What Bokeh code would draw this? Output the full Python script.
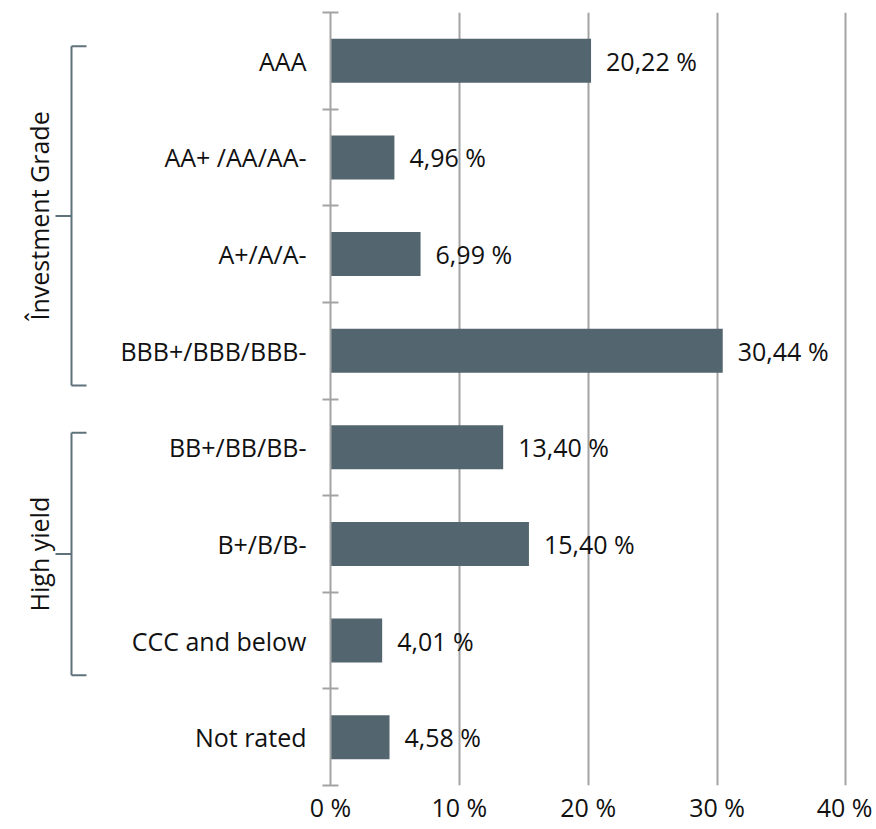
from bokeh.plotting import figure
from bokeh.layouts import row
from bokeh.models import Range1d, FixedTicker, ColumnDataSource, CustomJSTickFormatter
from bokeh.core.properties import value
from bokeh.embed import file_html
from bokeh.resources import INLINE
import math

categories = ["AAA", "AA+ /AA/AA-", "A+/A/A-", "BBB+/BBB/BBB-",
              "BB+/BB/BB-", "B+/B/B-", "CCC and below", "Not rated"]
shares = [20.22, 4.96, 6.99, 30.44, 13.40, 15.40, 4.01, 4.58]
x_ticks = [0, 10, 20, 30, 40]
x_tick_labels = ["0 %", "10 %", "20 %", "30 %", "40 %"]
group_names = ["Învestment Grade", "High yield"]
group_first = [0, 4]
group_last = [3, 6]

FONT = "Open Sans"
FS = "25px"
BAR = "#53656e"
GRID = "#a3a3a3"
BRACKET = "#5f727b"
TXT = "#111111"

n = len(categories)
H = 827
W = 872
TOP = 12
BOTTOM = 42
LEFT_W = 100

y_range = Range1d(n, 0)

centers = [i + 0.5 for i in range(n)]
bounds = [float(i) for i in range(n + 1)]

p = figure(width=W - LEFT_W, height=H, x_range=Range1d(0, 40.2), y_range=y_range,
           output_backend="svg", toolbar_location=None,
           min_border_top=TOP, min_border_bottom=BOTTOM, min_border_left=330 - LEFT_W,
           min_border_right=W - 848)
p.outline_line_color = None

src = ColumnDataSource(dict(
    y=centers, v=shares,
    lbl=[f"{s:.2f}".replace(".", ",") + " %" for s in shares]))

p.hbar(y="y", left=0, right="v", height=0.455, source=src,
       fill_color=BAR, line_color=None)
p.text(x="v", y="y", text="lbl", source=src, x_offset=15,
       text_font=value(FONT), text_font_size=FS, text_color=TXT,
       text_align="left", text_baseline="middle")

# x axis
p.xaxis.ticker = FixedTicker(ticks=x_ticks)
p.xaxis.major_label_overrides = {t: l for t, l in zip(x_ticks, x_tick_labels)}
p.xaxis.axis_line_color = None
p.xaxis.major_tick_line_color = None
p.xaxis.minor_tick_line_color = None
p.xaxis.major_tick_out = 0
p.xaxis.major_tick_in = 0
p.xaxis.major_label_standoff = 4
p.xaxis.major_label_text_font = FONT
p.xaxis.major_label_text_font_size = FS
p.xaxis.major_label_text_color = TXT

# y axis
p.yaxis.ticker = FixedTicker(ticks=centers, minor_ticks=bounds)
p.yaxis.formatter = CustomJSTickFormatter(
    args=dict(cats=categories),
    code="return cats[Math.floor(tick)];")
p.yaxis.axis_line_color = GRID
p.yaxis.axis_line_width = 2
p.yaxis.major_tick_line_color = None
p.yaxis.major_tick_out = 0
p.yaxis.major_tick_in = 0
p.yaxis.minor_tick_line_color = GRID
p.yaxis.minor_tick_line_width = 2
p.yaxis.minor_tick_in = 8
p.yaxis.minor_tick_out = 8
p.yaxis.major_label_standoff = 16
p.yaxis.major_label_text_font = FONT
p.yaxis.major_label_text_font_size = FS
p.yaxis.major_label_text_color = TXT

p.xgrid.ticker = FixedTicker(ticks=x_ticks[1:])
p.xgrid.grid_line_color = GRID
p.xgrid.grid_line_width = 2
p.ygrid.grid_line_color = None
p.xgrid.level = "underlay"

# left panel with group brackets
q = figure(width=LEFT_W, height=H, x_range=Range1d(0, LEFT_W), y_range=y_range,
           output_backend="svg", toolbar_location=None,
           min_border_top=TOP, min_border_bottom=BOTTOM, min_border_left=0,
           min_border_right=0)
q.outline_line_color = None
q.axis.visible = False
q.grid.visible = False

tops = [f + 0.35 for f in group_first]
bots = [l + 0.86 for l in group_last]
mids = [(a + b) / 2 for a, b in zip(tops, bots)]
bx = 71
q.segment(x0=[bx] * 2, x1=[bx] * 2, y0=tops, y1=bots, line_color=BRACKET, line_width=2)
q.segment(x0=[bx] * 2, x1=[bx + 15] * 2, y0=tops, y1=tops, line_color=BRACKET, line_width=2)
q.segment(x0=[bx] * 2, x1=[bx + 15] * 2, y0=bots, y1=bots, line_color=BRACKET, line_width=2)
q.segment(x0=[bx - 16] * 2, x1=[bx] * 2, y0=mids, y1=mids, line_color=BRACKET, line_width=2)
q.text(x=[38] * 2, y=mids, text=group_names, angle=math.pi / 2,
       text_font=value(FONT), text_font_size=FS, text_color=TXT,
       text_align="center", text_baseline="middle")

layout = row(q, p)
open("out.html", "w").write(file_html(layout, INLINE))
